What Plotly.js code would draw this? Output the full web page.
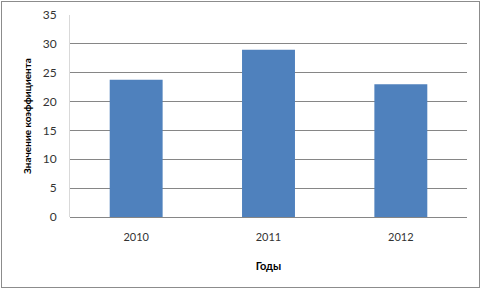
<!DOCTYPE html>
<html><head><meta charset="utf-8">
<script src="https://cdn.plot.ly/plotly-3.0.1.min.js"></script>
<style>
html,body{margin:0;padding:0;background:#fff;}
#wrap{position:relative;width:482px;height:289px;}
#chart{width:482px;height:289px;}
#frame{position:absolute;left:1px;top:1px;width:477px;height:285px;border:1px solid #8c8c8c;pointer-events:none;}
</style></head>
<body>
<div id="wrap"><div id="chart"></div><div id="frame"></div></div>
<script>
const years = ['2010', '2011', '2012'];
const values = [23.8, 29, 23];
const yTicks = [0, 5, 10, 15, 20, 25, 30, 35];

const font = 'Lato, "Open Sans", sans-serif';
Plotly.newPlot('chart', [{
  type: 'bar',
  x: years,
  y: values,
  width: 0.4,
  marker: {color: '#4F81BD', line: {width: 0}},
  hoverinfo: 'none'
}], {
  width: 482, height: 289,
  margin: {l: 70, r: 15, t: 15, b: 72},
  paper_bgcolor: '#fff', plot_bgcolor: '#fff',
  showlegend: false,
  font: {family: font, size: 11, color: '#333'},
  xaxis: {
    type: 'category',
    showgrid: false, zeroline: false,
    showline: false,
    ticks: 'outside', ticklen: 10, tickcolor: 'rgba(0,0,0,0)',
    tickfont: {family: font, size: 11, color: '#333'},
    title: {text: '<b>Годы</b>', font: {family: font, size: 11, color: '#000'}, standoff: 20}
  },
  yaxis: {
    range: [0, 35],
    tickvals: yTicks,
    ticktext: yTicks.map(String),
    showgrid: true, gridcolor: '#868686', gridwidth: 1,
    zeroline: true, zerolinecolor: '#868686', zerolinewidth: 1,
    showline: true, linecolor: '#d9d9d9', linewidth: 1,
    ticks: 'outside', ticklen: 10, tickcolor: 'rgba(0,0,0,0)',
    tickfont: {family: font, size: 12, color: '#333'},
    title: {text: '<b>Значение коэффициента</b>', font: {family: font, size: 10, color: '#000'}, standoff: 9}
  }
}, {displayModeBar: false, staticPlot: true});
</script>
</body></html>
